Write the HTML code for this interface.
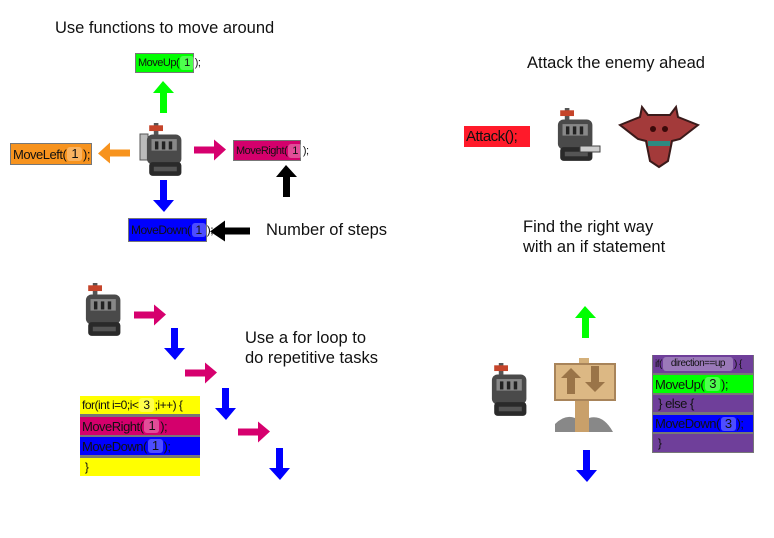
<!DOCTYPE html>
<html><head><meta charset="utf-8"><style>
body{margin:0;background:#fff;width:774px;height:538px;overflow:hidden;font-family:"Liberation Sans",sans-serif}
.t{position:absolute;font-size:16.5px;color:#111;line-height:20px}
.b{position:absolute;font-size:11px;color:#111;box-sizing:border-box;border:1px solid #777;white-space:nowrap;display:flex;align-items:center;padding-left:2px;letter-spacing:-0.5px}
.n{display:inline-block;padding:0 4px;border-radius:3px;background:rgba(255,255,255,.3);margin:0 1px;line-height:14px}
</style></head><body>
<svg width="774" height="538" style="position:absolute;left:0;top:0">
<defs>
<g id="au"><polygon points="10,0 21,12 14,12 14,32 7,32 7,12 0,12"/></g>
<g id="kn0">
<rect x="12" y="0" width="4" height="10" fill="#555"/>
<path d="M8 2 h12 v5 h-12z" fill="#c5442a"/>
<rect x="6" y="10" width="30" height="26" rx="5" fill="#4a4a4a"/>
<rect x="10" y="14" width="22" height="10" fill="#888"/>
<rect x="13" y="16" width="3" height="7" fill="#222"/><rect x="19" y="16" width="3" height="7" fill="#222"/><rect x="25" y="16" width="3" height="7" fill="#222"/>
<rect x="8" y="34" width="28" height="12" rx="3" fill="#2a2a2a"/>
<rect x="12" y="38" width="20" height="4" fill="#555"/>
</g>
<g id="kn"><use href="#kn0" transform="scale(1.15)"/></g>
</defs>
<use href="#au" x="153" y="81" fill="#00ff00"/>
<use href="#au" x="153" y="180" fill="#0000ff" transform="rotate(180 163.5 196)"/>
<use href="#au" x="276" y="165" fill="#000"/>
<g transform="translate(114 153) rotate(-90) translate(-10.5 -16)" fill="#f7931e"><use href="#au"/></g>
<g transform="translate(210 150) rotate(90) translate(-10.5 -16)" fill="#d6006e"><use href="#au"/></g>
<g transform="translate(230 231) rotate(-90) translate(-10.5 -20) scale(1 1.25)" fill="#000"><use href="#au"/></g>
<rect x="140" y="134" width="8" height="26" fill="#bbb" stroke="#555"/>
<use href="#kn" x="140" y="123"/>
<use href="#kn" x="79" y="283"/>
<g fill="#d6006e">
<g transform="translate(150 315) rotate(90) translate(-10.5 -16)"><use href="#au"/></g>
<g transform="translate(201 373) rotate(90) translate(-10.5 -16)"><use href="#au"/></g>
<g transform="translate(254 432) rotate(90) translate(-10.5 -16)"><use href="#au"/></g>
</g>
<g fill="#0000ff">
<use href="#au" transform="rotate(180 174 344)" x="163" y="328"/>
<use href="#au" transform="rotate(180 225 404)" x="214" y="388"/>
<use href="#au" transform="rotate(180 279 464)" x="268" y="448"/>
</g>
<use href="#au" x="575" y="306" fill="#00ff00"/>
<use href="#au" transform="rotate(180 586 466)" x="575" y="450" fill="#0000ff"/>
<use href="#kn" x="551" y="108"/>
<rect x="580" y="146" width="20" height="6" fill="#ccc" stroke="#444"/>
<g transform="translate(620 103)">
<polygon points="0,22 20,14 22,4 28,12 50,12 56,4 58,14 78,22 60,36 52,38 48,58 39,64 30,58 26,38 18,36" fill="#a33a3a" stroke="#3a1a1a" stroke-width="2"/>
<rect x="28" y="38" width="22" height="5" fill="#2e8a80"/>
<circle cx="33" cy="26" r="3" fill="#3a0a0a"/><circle cx="45" cy="26" r="3" fill="#3a0a0a"/>
</g>
<use href="#kn" x="485" y="363"/>
<g transform="translate(555 358)">
<rect x="20" y="40" width="14" height="34" fill="#c9a06a"/>
<path d="M0 66 q10 -10 20 -6 v14 h-20z M34 60 q14 -4 24 14 h-24z" fill="#888"/>
<rect x="24" y="0" width="10" height="6" fill="#d4b07a"/>
<rect x="0" y="6" width="60" height="36" fill="#dcb884" stroke="#a8845a" stroke-width="2"/>
<polygon points="12,36 12,20 6,20 16,10 26,20 20,20 20,36" fill="#9a7448"/>
<polygon points="36,8 44,8 44,24 50,24 40,34 30,24 36,24" fill="#9a7448"/>
</g>
</svg>
<div class="t" style="left:55px;top:18px">Use functions to move around</div>
<div class="t" style="left:266px;top:220px">Number of steps</div>
<div class="t" style="left:527px;top:53px">Attack the enemy ahead</div>
<div class="t" style="left:523px;top:217px">Find the right way<br>with an if statement</div>
<div class="t" style="left:245px;top:328px">Use a for loop to<br>do repetitive tasks</div>

<div class="b" style="left:135px;top:53px;width:59px;height:20px;background:#00ff00">MoveUp(<span class="n">1</span>);</div>
<div class="b" style="left:10px;top:143px;width:82px;height:22px;background:#f7931e;font-size:13px">MoveLeft(<span class="n">1</span>);</div>
<div class="b" style="left:233px;top:140px;width:68px;height:21px;background:#d4006c">MoveRight(<span class="n">1</span>);</div>
<div class="b" style="left:128px;top:218px;width:79px;height:24px;background:#0000ff;font-size:12px">MoveDown(<span class="n">1</span>);</div>
<div class="b" style="left:464px;top:126px;width:66px;height:21px;background:#ff1a2a;border:none;font-size:15px">Attack();</div>

<div style="position:absolute;left:80px;top:396px;width:120px;height:80px;background:#777">
<div class="b" style="position:absolute;left:0;top:0;width:120px;height:18px;background:#ffff00;border:none;font-size:12px">for(int i=0;i&lt;<span class="n">3</span>;i++) {</div>
<div class="b" style="position:absolute;left:0;top:21px;width:120px;height:18px;background:#d4006c;border:none;font-size:13px">MoveRight(<span class="n">1</span>);</div>
<div class="b" style="position:absolute;left:0;top:41px;width:120px;height:18px;background:#0000ff;border:none;font-size:13px">MoveDown(<span class="n">1</span>);</div>
<div class="b" style="position:absolute;left:0;top:62px;width:120px;height:18px;background:#ffff00;border:none;font-size:12px">&nbsp;}</div>
</div>

<div style="position:absolute;left:652px;top:355px;width:102px;height:98px;background:#777">
<div class="b" style="position:absolute;left:1px;top:0;width:100px;height:18px;background:#6f3f9a;border:none;font-size:10px">if(<span class="n" style="padding:0 8px">direction==up</span>) {</div>
<div class="b" style="position:absolute;left:1px;top:20px;width:100px;height:18px;background:#00ff00;border:none;font-size:13px">MoveUp(<span class="n">3</span>);</div>
<div class="b" style="position:absolute;left:1px;top:40px;width:100px;height:17px;background:#6f3f9a;border:none;font-size:13px">&nbsp;} else {</div>
<div class="b" style="position:absolute;left:1px;top:60px;width:100px;height:17px;background:#0000ff;border:none;font-size:13px">MoveDown(<span class="n">3</span>);</div>
<div class="b" style="position:absolute;left:1px;top:79px;width:100px;height:18px;background:#6f3f9a;border:none;font-size:12px">&nbsp;}</div>
</div>
</body></html>
